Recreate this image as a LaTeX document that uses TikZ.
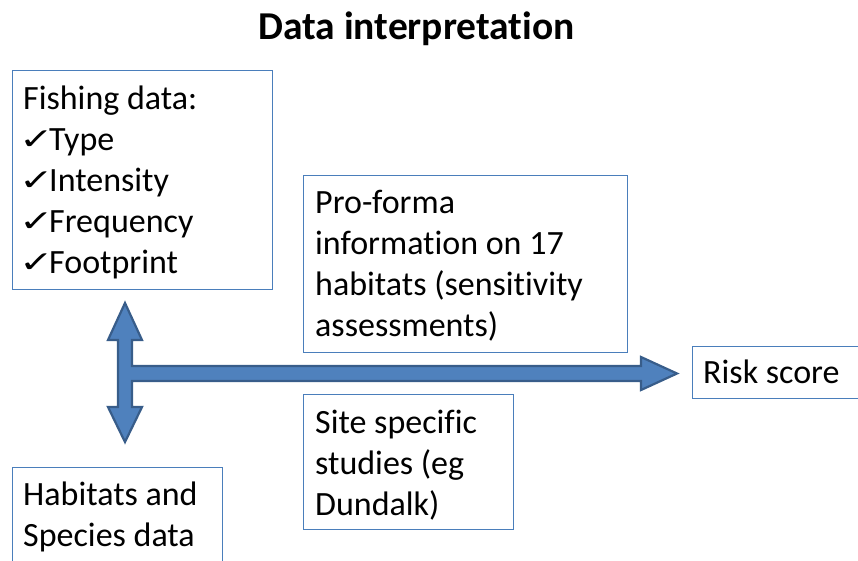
\documentclass[tikz,border=0pt]{standalone}
\usepackage{fontspec}
\setmainfont{Carlito}[Ligatures=NoCommon]
\newfontfamily\symfont{DejaVu Sans}
\definecolor{boxblue}{HTML}{4A7EBB}
\definecolor{arrfill}{HTML}{4F81BD}
\definecolor{arrline}{HTML}{385D8A}
\newcommand{\chk}{\makebox[26pt][l]{\hspace{-3.5pt}\raisebox{1pt}{\symfont\fontsize{35}{35}\selectfont\scalebox{1.18}[0.85]{✓}}}}
\begin{document}
\begin{tikzpicture}[x=1pt,y=-1pt,
  box/.style={draw=boxblue, line width=1.3pt, anchor=north west, inner sep=0pt},
  txt/.style={anchor=base west, inner sep=0pt, font=\fontsize{34}{41}\selectfont},
  bigarrow/.style={fill=arrfill, draw=arrline, line width=2.2pt, line join=miter}]
\useasboundingbox (0,0) rectangle (858,560);

% title
\node[anchor=base, inner sep=0pt, font=\bfseries\fontsize{39.5}{46}\selectfont] (title) at (416.5,39) {Data interpretation};

% boxes
\node[box, minimum width=260pt, minimum height=219pt] (fish) at (12,70) {};
\node[box, minimum width=324pt, minimum height=177pt] (proforma) at (303,175) {};
\node[box, minimum width=210pt, minimum height=135pt] (site) at (303,394) {};
\node[box, minimum width=210pt, minimum height=110pt] (habitat) at (12,467) {};
\node[box, minimum width=190pt, minimum height=52pt] (risk) at (692,346) {};

% texts
\node[txt] (fishtxt) at (23,109) {\parbox[t]{250pt}{\raggedright Fishing data:\\\chk Type\\\chk Intensity\\\chk Frequency\\\chk Footprint}};
\node[txt] (protxt) at (315,213) {\parbox[t]{310pt}{\raggedright Pro-forma\\information on 17\\habitats (sensitivity\\assessments)}};
\node[txt] (sitetxt) at (315,433) {\parbox[t]{200pt}{\raggedright Site specific\\studies (eg\\Dundalk)}};
\node[txt] (habtxt) at (23,505) {\parbox[t]{200pt}{\raggedright Habitats and\\Species data}};
\node[txt] (risktxt) at (703,383) {Risk score};

% block arrow
\draw[bigarrow] (125,303) -- (142,340) -- (132,340) -- (132,366) -- (641,366)
  -- (641,357) -- (677,373.5) -- (641,390) -- (641,381) -- (132,381)
  -- (132,407) -- (142,407) -- (125,442) -- (108,407) -- (118,407)
  -- (118,340) -- (108,340) -- cycle;
\end{tikzpicture}
\end{document}
